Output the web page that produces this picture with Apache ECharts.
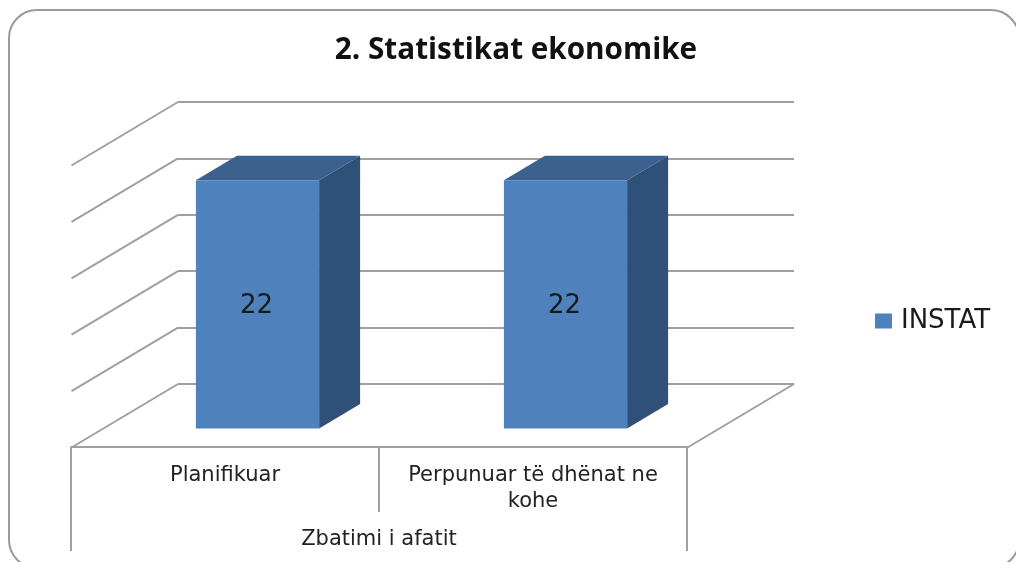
<!DOCTYPE html>
<html>
<head>
<meta charset="utf-8">
<style>html,body{margin:0;padding:0;background:#fff}#c{width:1016px;height:562px;filter:blur(0.5px)}</style>
<script src="https://cdn.jsdelivr.net/npm/echarts@6/dist/echarts.min.js"></script>
</head>
<body>
<div id="c"></div>
<script>
const titleText = '2. Statistikat ekonomike';
const seriesName = 'INSTAT';
const categories = ['Planifikuar', 'Perpunuar të dhënat ne\nkohe'];
const groupCategories = ['Zbatimi i afatit'];
const values = [22, 22];
const gridValues = [0, 5, 10, 15, 20, 25];

const FONT = 'DejaVu Sans';
const GRID = '#a0a0a0';
const FACE = '#4f81bd', SIDE = '#2f5179', TOP = '#3c618f';
const WALL = {dx: -106.5, dy: 63.5};
const FRONT = {dx: -74.5, dy: 44.5};
const DEPTH = {dx: 41, dy: -24.5};
const BAR_RATIO = 0.4;

const chart = echarts.init(document.getElementById('c'), null, {renderer: 'canvas'});

function renderWall(params, api) {
  const v = api.value(1);
  const cs = params.coordSys;
  const y = api.coord([0, v])[1];
  const lineStyle = {stroke: GRID, lineWidth: 2, fill: null};
  const children = [{
    type: 'line',
    shape: {x1: cs.x, y1: y, x2: cs.x + WALL.dx, y2: y + WALL.dy},
    style: lineStyle
  }];
  if (v === 0) {
    children.push({
      type: 'line',
      shape: {x1: cs.x + cs.width, y1: y, x2: cs.x + cs.width + WALL.dx, y2: y + WALL.dy},
      style: lineStyle
    });
  }
  return {type: 'group', children};
}

function renderBar(params, api) {
  const top = api.coord([api.value(0), api.value(1)]);
  const base = api.coord([api.value(0), 0]);
  const w = api.size([1, 0])[0] * BAR_RATIO;
  const xl = top[0] + FRONT.dx - w / 2, xr = xl + w;
  const yt = top[1] + FRONT.dy, yb = base[1] + FRONT.dy;
  const d = DEPTH;
  return {type: 'group', children: [
    {type: 'polygon', shape: {points: [[xr, yt], [xr + d.dx, yt + d.dy], [xr + d.dx, yb + d.dy], [xr, yb]]}, style: {fill: SIDE}},
    {type: 'polygon', shape: {points: [[xl, yt], [xl + d.dx, yt + d.dy], [xr + d.dx, yt + d.dy], [xr, yt]]}, style: {fill: TOP}},
    {type: 'rect', shape: {x: xl, y: yt, width: w, height: yb - yt}, style: {fill: FACE}},
    {type: 'text', style: {
      text: String(api.value(1)), x: (xl + xr) / 2 - 1, y: (yt + yb) / 2 + 2,
      align: 'center', verticalAlign: 'middle',
      font: '26px "' + FONT + '"', fill: '#1a1a1a'
    }}
  ]};
}

chart.setOption({
  animation: false,
  backgroundColor: '#ffffff',
  title: {
    text: titleText, left: 511, top: 31, textAlign: 'center',
    textStyle: {fontFamily: 'Open Sans', fontWeight: 'bold', fontSize: 29.7, color: '#111'}
  },
  legend: {
    data: [seriesName], left: 870, top: 303, icon: 'rect',
    itemWidth: 17, itemHeight: 15, itemGap: 8, selectedMode: false,
    textStyle: {fontFamily: FONT, fontSize: 26, color: '#1a1a1a', padding: [0, 0, 0, 4]}
  },
  graphic: [{
    type: 'rect', z: -10,
    shape: {x: 9, y: 10, width: 1010, height: 558, r: 28},
    style: {fill: '#fff', stroke: '#9a9a9a', lineWidth: 2}
  }],
  grid: [
    {left: 178, top: 102, width: 616, height: 282},
    {left: 71, top: 347, width: 616, height: 100}
  ],
  xAxis: [
    {gridIndex: 0, type: 'category', data: categories, axisLine: {show: false}, axisTick: {show: false}, axisLabel: {show: false}},
    {gridIndex: 1, type: 'category', position: 'bottom', data: categories,
      axisLine: {show: true, lineStyle: {color: GRID, width: 2}},
      axisTick: {show: true, length: 65, lineStyle: {color: GRID, width: 2}},
      axisLabel: {interval: 0, margin: 16, fontFamily: FONT, fontSize: 21, lineHeight: 26, color: '#222'}},
    {gridIndex: 1, type: 'category', position: 'bottom', data: groupCategories,
      axisLine: {show: false},
      axisTick: {show: true, length: 104, lineStyle: {color: GRID, width: 2}},
      axisLabel: {interval: 0, margin: 82, fontFamily: FONT, fontSize: 21, color: '#222'}}
  ],
  yAxis: [
    {gridIndex: 0, type: 'value', min: 0, max: 25, interval: 5,
      axisLine: {show: false}, axisTick: {show: false}, axisLabel: {show: false},
      splitLine: {show: true, lineStyle: {color: GRID, width: 2}}},
    {gridIndex: 1, type: 'value', show: false, min: 0, max: 1}
  ],
  series: [
    {
      name: 'wall', type: 'custom', xAxisIndex: 0, yAxisIndex: 0, silent: true, z: 1, clip: false,
      data: gridValues.map(v => [0, v]),
      encode: {x: 0, y: 1},
      renderItem: renderWall
    },
    {
      name: seriesName, type: 'custom', xAxisIndex: 0, yAxisIndex: 0, z: 3, clip: false,
      itemStyle: {color: FACE},
      data: values.map((v, i) => [i, v]),
      encode: {x: 0, y: 1},
      renderItem: renderBar
    }
  ]
});
</script>
</body>
</html>
